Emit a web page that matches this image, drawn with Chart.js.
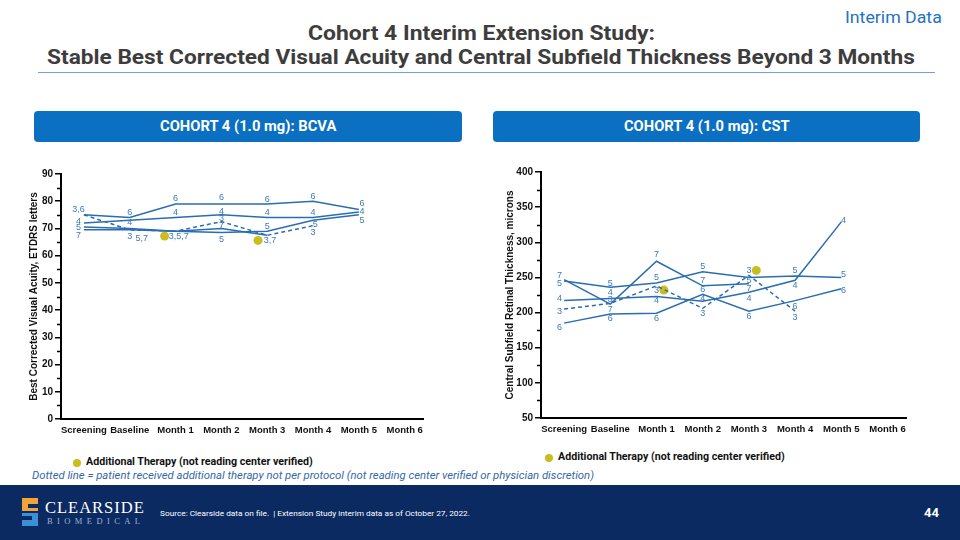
<!DOCTYPE html>
<html>
<head>
<meta charset="utf-8">
<script src="https://cdn.jsdelivr.net/npm/chart.js@4.4.0/dist/chart.umd.min.js"></script>
<style>
  html,body{margin:0;padding:0;}
  body{width:960px;height:540px;position:relative;overflow:hidden;background:#fff;font-family:Roboto,"Liberation Sans",Arial,sans-serif;}
  .abs{position:absolute;white-space:nowrap;}
  .fit{display:inline-block;transform-origin:left center;}
  #interim{left:845px;top:7px;font-size:17px;color:#1f72c4;}
  .ttl{font-weight:700;font-size:21px;color:#3d3d3d;line-height:24px;}
  #t1{left:308px;top:21px;}
  #t2{left:47px;top:45px;}
  #rule{left:38px;top:72px;width:897px;height:0;border-top:1.5px solid #6aa6dc;}
  .box{position:absolute;top:111px;height:31px;background:#0b6fc2;border-radius:4px;color:#fff;font-weight:700;font-size:14px;}
  .box span{position:absolute;top:7px;}
  #b1{left:34px;width:428px;}
  #b2{left:493px;width:427px;}
  canvas{position:absolute;}
  #c1{left:0px;top:160px;}
  #c2{left:470px;top:160px;}
  .leg{font-size:10px;font-weight:700;color:#111;}
  .dot{position:absolute;width:8px;height:8px;border-radius:50%;background:#c9bd1f;}
  #note{left:32px;top:470px;font-size:10px;font-style:italic;color:#3467a8;}
  #footer{position:absolute;left:0;top:485px;width:960px;height:55px;background:#0c2a62;}
  #src{left:160px;top:509px;font-size:7.5px;color:#fff;}
  #pg{left:924px;top:505px;font-size:13px;font-weight:700;color:#fff;}
  #logo1{left:45px;top:498px;font-family:"Liberation Serif","DejaVu Serif",serif;font-size:16.5px;color:#fff;letter-spacing:1px;}
  #logo2{left:47px;top:516px;font-family:"Liberation Serif","DejaVu Serif",serif;font-size:8.5px;color:#9fb3d1;letter-spacing:4.4px;}
</style>
</head>
<body>
<div id="interim" class="abs"><span class="fit" id="is">Interim Data</span></div>
<div id="t1" class="abs ttl"><span class="fit" id="t1s">Cohort 4 Interim Extension Study:</span></div>
<div id="t2" class="abs ttl"><span class="fit" id="t2s">Stable Best Corrected Visual Acuity and Central Subfield Thickness Beyond 3 Months</span></div>
<div id="rule" class="abs"></div>
<div id="b1" class="box"><span class="fit" id="b1s" style="left:126px">COHORT 4 (1.0 mg): BCVA</span></div>
<div id="b2" class="box"><span class="fit" id="b2s" style="left:131px">COHORT 4 (1.0 mg): CST</span></div>
<canvas id="c1" width="440" height="290"></canvas>
<canvas id="c2" width="450" height="290"></canvas>
<div class="dot" style="left:73px;top:459px;"></div>
<div class="abs leg" style="left:86px;top:456px;"><span class="fit" id="l1s">Additional Therapy (not reading center verified)</span></div>
<div class="dot" style="left:545px;top:454px;"></div>
<div class="abs leg" style="left:558px;top:451px;"><span class="fit" id="l2s">Additional Therapy (not reading center verified)</span></div>
<div id="note" class="abs"><span class="fit" id="ns">Dotted line = patient received additional therapy not per protocol (not reading center verified or physician discretion)</span></div>
<div id="footer"></div>
<svg class="abs" style="left:19px;top:496px;" width="22" height="32" viewBox="0 0 22 32">
  <path d="M3 2 H19 V8 H9 V12 H19 V15 H3 Z" fill="#f2a33a"/>
  <path d="M3 17 H19 V30 H3 V24 H13 V20 H3 Z" fill="#3b8fd4"/>
</svg>
<div id="logo1" class="abs">CLEARSIDE</div>
<div id="logo2" class="abs">BIOMEDICAL</div>
<div id="src" class="abs"><span class="fit" id="ss">Source: Clearside data on file.&nbsp; | Extension Study interim data as of October 27, 2022.</span></div>
<div id="pg" class="abs">44</div>

<script>
// ---------- DATA ----------
const categories = ['Screening','Baseline','Month 1','Month 2','Month 3','Month 4','Month 5','Month 6'];

// BCVA (ETDRS letters), patients 3-7 (patient 3 = dotted)
const bcvaP3 = [75, 69.5, 69, 72.5, 67.5, 71, null, null];
const bcvaP4 = [72, 73, 74, 75, 74, 74, 76, null];
const bcvaP5 = [70.5, 70, 69, 68.5, 69, 73, 75, null];
const bcvaP6 = [75, 74, 79, 79, 79, 80, 77, null];
const bcvaP7 = [69.5, 69.5, 69, 70, 67.5, null, null, null];
const bcvaAddX = [1.76, 3.8];
const bcvaAddY = [67.2, 65.6];
const bcvaTicks = [0,10,20,30,40,50,60,70,80,90];
const bcvaLabels = [
  [-0.12,76.8,'3,6'],[-0.12,72.5,'4'],[-0.12,70.3,'5'],[-0.12,67.5,'7'],
  [1,75.9,'6'],[1,72,'4'],[1,67.2,'3'],[1.26,66.4,'5,7'],
  [2,81.1,'6'],[2,75.9,'4'],[2.07,67.2,'3,5,7'],
  [3,81.4,'6'],[3,76.4,'4'],[3,73.7,'3'],[3,71,'7'],[3,66,'5'],
  [4,80.7,'6'],[4,75.9,'4'],[4,70.6,'5'],[4.06,65.5,'3,7'],
  [5,81.9,'6'],[5,75.9,'4'],[5.05,71.5,'5'],[5,68.4,'3'],
  [6.07,79.2,'6'],[6.07,76.4,'4'],[6.07,73,'5']
];

// CST (microns)
const cstP3 = [205, 213, 238, 206, 253, 202, null, null];
const cstP4 = [217, 220, 223, 216, 229, 246, 329, null];
const cstP5 = [245, 236, 242, 258, 250, 252, 250, null];
const cstP6 = [185, 198, 199, 226, 202, 217, 234, null];
const cstP7 = [247, 212, 273, 238, 241, null, null, null];
const cstAddX = [2.16, 4.16];
const cstAddY = [232, 260];
const cstTicks = [50,100,150,200,250,300,350,400];
const cstLabels = [
  [-0.1,253,'7'],[-0.1,241,'5'],[-0.1,220,'4'],[-0.1,202,'3'],[-0.1,179,'6'],
  [1,241,'5'],[1,229,'4'],[1,219,'3'],[1,205,'7'],[1,191,'6'],
  [2,282,'7'],[2,250,'5'],[2,232,'3'],[2,217,'4'],[2,191,'6'],
  [3,265,'5'],[3,246,'7'],[3,233,'6'],[3,220,'4'],[3,199,'3'],
  [4,260,'3'],[4,245,'5'],[4,234,'7'],[4,220,'4'],[4,194,'6'],
  [5,260,'5'],[5,239,'4'],[5,209,'6'],[5,193,'3'],
  [6.05,331,'4'],[6.05,254,'5'],[6.05,231,'6']
];

// ---------- CHART ----------
const LINE = '#2a6db2';
const LBL = '#3a7bbf';
const DOT = '#c9bd1f';
const FONT = '"Liberation Sans", Arial, sans-serif';

function pts(vals){ return vals.map((v,i)=> v==null?null:{x:i,y:v}).filter(Boolean); }

const labelPlugin = {
  id:'pointLabels',
  afterDatasetsDraw(chart, args, opts){
    const {ctx, scales:{x,y}} = chart;
    ctx.save();
    ctx.font = '9px ' + FONT;
    ctx.fillStyle = LBL;
    ctx.textAlign = 'center';
    ctx.textBaseline = 'middle';
    opts.items.forEach(([i,v,t])=> ctx.fillText(t, x.getPixelForValue(i), y.getPixelForValue(v)));
    ctx.restore();
  }
};
const minorPlugin = {
  id:'minorTicks',
  afterDraw(chart, args, opts){
    const {ctx, scales:{y}, chartArea} = chart;
    ctx.save();
    ctx.strokeStyle = '#000'; ctx.lineWidth = 1.5;
    for (let v = y.min + opts.step/2; v < y.max; v += opts.step){
      const py = Math.round(y.getPixelForValue(v)) + 0.5;
      ctx.beginPath(); ctx.moveTo(chartArea.left-4, py); ctx.lineTo(chartArea.left, py); ctx.stroke();
    }
    ctx.restore();
  }
};

function makeChart(id, cfg){
  const lineDs = (vals, dashed) => ({
    type:'line', data: pts(vals), borderColor: LINE, borderWidth: 1.5,
    borderDash: dashed ? [4,3] : [], pointRadius: 0, fill:false, tension:0
  });
  return new Chart(document.getElementById(id), {
    type:'line',
    data:{ datasets:[
      lineDs(cfg.p[0], true), lineDs(cfg.p[1]), lineDs(cfg.p[2]), lineDs(cfg.p[3]), lineDs(cfg.p[4]),
      { type:'scatter', label:'Additional Therapy (not reading center verified)',
        data: cfg.addX.map((x,k)=>({x, y: cfg.addY[k]})),
        pointRadius:4.5, pointBackgroundColor: DOT, pointBorderWidth:0, showLine:false }
    ]},
    options:{
      responsive:false, animation:false,
      layout:{ padding: cfg.pad },
      plugins:{ legend:{display:false}, tooltip:{enabled:false},
        pointLabels:{ items: cfg.labels }, minorTicks:{ step: cfg.step } },
      scales:{
        x:{ type:'linear', min:-0.5, max:7.4,
          afterBuildTicks: s => { s.ticks = categories.map((c,i)=>({value:i})); },
          afterFit: s => { s.height = cfg.xh; },
          grid:{ display:true, drawOnChartArea:false, drawTicks:false },
          border:{ display:true, color:'#000', width:2 },
          ticks:{ autoSkip:false, maxRotation:0, padding:6, color:'#111',
            font:{ family:FONT, size:9.5, weight:'bold' },
            callback: v => categories[v] }
        },
        y:{ min: cfg.ticks[0], max: cfg.ticks[cfg.ticks.length-1],
          afterBuildTicks: s => { s.ticks = cfg.ticks.map(v=>({value:v})); },
          afterFit: s => { s.width = cfg.yw; },
          grid:{ display:true, drawOnChartArea:false, drawTicks:true, tickLength:6, color:'#000', lineWidth:1.5 },
          border:{ display:true, color:'#000', width:2 },
          ticks:{ padding:2, color:'#111', font:{ family:FONT, size:10, weight:'bold' } },
          title:{ display:true, text: cfg.title, color:'#111',
            font:{ family:FONT, size:10, weight:'bold' }, padding:{ top: cfg.tp, bottom:0 } }
        }
      }
    },
    plugins:[labelPlugin, minorPlugin]
  });
}

makeChart('c1', { p:[bcvaP3,bcvaP4,bcvaP5,bcvaP6,bcvaP7], addX:bcvaAddX, addY:bcvaAddY,
  labels:bcvaLabels, ticks:bcvaTicks, step:10, title:'Best Corrected Visual Acuity, ETDRS letters',
  pad:{left:0, top:14, right:17, bottom:0}, xh:31, yw:61, tp:28 });
makeChart('c2', { p:[cstP3,cstP4,cstP5,cstP6,cstP7], addX:cstAddX, addY:cstAddY,
  labels:cstLabels, ticks:cstTicks, step:50, title:'Central Subfield Retinal Thickness, microns',
  pad:{left:0, top:12, right:14, bottom:0}, xh:32, yw:71, tp:34 });

// ---------- text width fitting (offsetWidth ignores transforms) ----------
function fit(id, w){
  const el = document.getElementById(id);
  const r = el.offsetWidth;
  if (r > 0) el.style.transform = 'scaleX(' + (w/r) + ')';
}
function fitAll(){
  fit('is', 97);
  fit('t1s', 347); fit('t2s', 868); fit('b1s', 176); fit('b2s', 166);
  fit('l1s', 227); fit('l2s', 227); fit('ns', 562); fit('ss', 310);
}
fitAll();
if (document.fonts && document.fonts.ready) document.fonts.ready.then(fitAll);
</script>
</body>
</html>
